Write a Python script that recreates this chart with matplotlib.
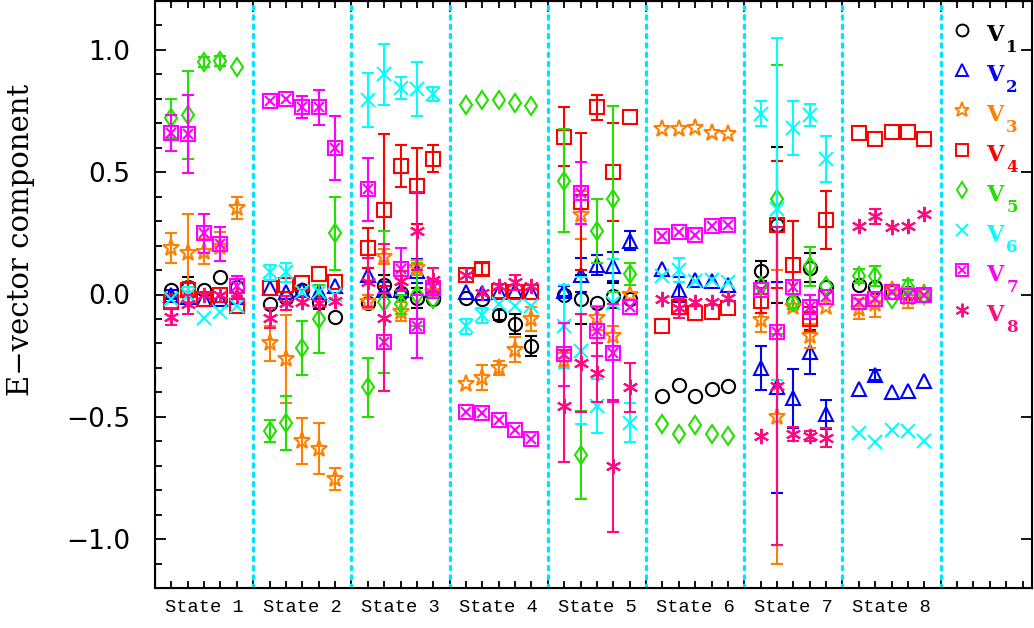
import numpy as np
import matplotlib
matplotlib.use("Agg")
import matplotlib.pyplot as plt
from matplotlib.ticker import FixedLocator
import matplotlib.transforms as mtransforms

# ── data: 8 states x 5 points per state ─────────────────────────────────────
states = ["State 1", "State 2", "State 3", "State 4",
          "State 5", "State 6", "State 7", "State 8"]
n_per_state = 5

v1_vals = [0.02, 0.03, 0.02, 0.07, 0.03,   -0.04, -0.015, 0.02, -0.03, -0.09,
           -0.035, 0.04, 0.005, -0.015, -0.02,   -0.015, -0.02, -0.085, -0.12, -0.21,
           0.0, -0.02, -0.035, -0.005, -0.02,   -0.415, -0.37, -0.415, -0.385, -0.375,
           0.095, 0.285, -0.03, 0.11, 0.03,   0.04, 0.03, 0.01, 0.005, 0.0]
v1_errs = [0, 0.04, 0, 0, 0,   0, 0, 0, 0.03, 0,
           0, 0.04, 0, 0.04, 0,   0, 0, 0.02, 0.04, 0.04,
           0, 0.1, 0, 0.05, 0,   0, 0, 0, 0, 0,
           0.04, 0.32, 0, 0.06, 0,   0, 0, 0, 0.02, 0]

v2_vals = [0.0, -0.01, -0.02, -0.02, -0.01,   0.025, 0.01, 0.02, 0.01, 0.035,
           0.08, 0.02, 0.02, 0.095, 0.02,   0.01, 0.005, 0.01, 0.015, 0.01,
           0.015, 0.08, 0.12, 0.115, 0.22,   0.105, 0.02, 0.06, 0.055, 0.04,
           -0.3, -0.38, -0.425, -0.235, -0.49,   -0.385, -0.33, -0.4, -0.395, -0.355]
v2_errs = [0.02, 0, 0, 0, 0,   0, 0, 0, 0, 0,
           0.03, 0.03, 0, 0.05, 0,   0, 0, 0, 0, 0,
           0.02, 0.07, 0.04, 0.06, 0.04,   0, 0.05, 0, 0, 0,
           0.09, 0.43, 0.12, 0.09, 0.06,   0, 0.02, 0, 0, 0]

v3_vals = [0.19, 0.17, 0.175, 0.195, 0.355,   -0.2, -0.265, -0.6, -0.63, -0.755,
           -0.03, 0.155, -0.07, 0.11, 0.01,   -0.365, -0.34, -0.3, -0.225, -0.1,
           -0.27, 0.325, -0.095, -0.17, 0.0,   0.675, 0.675, 0.68, 0.66, 0.655,
           -0.105, -0.5, -0.05, -0.17, -0.05,   -0.06, -0.04, 0.02, -0.015, 0.005]
v3_errs = [0.06, 0.16, 0.05, 0.06, 0.045,   0.07, 0.18, 0.095, 0.105, 0.045,
           0.03, 0.03, 0.04, 0.03, 0,   0, 0.05, 0.03, 0.05, 0.05,
           0.03, 0.1, 0.05, 0.04, 0,   0, 0, 0, 0, 0,
           0.05, 0.6, 0, 0.05, 0,   0.04, 0.05, 0, 0.04, 0]

v4_vals = [-0.03, 0.02, -0.02, 0.0, -0.045,   0.025, 0.04, 0.045, 0.085, 0.05,
           0.19, 0.345, 0.525, 0.445, 0.555,   0.08, 0.105, 0.015, 0.01, 0.01,
           0.645, 0.38, 0.765, 0.5, 0.725,   -0.13, -0.05, -0.075, -0.07, -0.055,
           -0.025, 0.285, 0.12, -0.1, 0.305,   0.66, 0.635, 0.665, 0.665, 0.635]
v4_errs = [0, 0.03, 0, 0, 0,   0, 0, 0, 0, 0,
           0.08, 0.31, 0.085, 0.155, 0.055,   0, 0.025, 0, 0, 0,
           0.12, 0.28, 0.05, 0.2, 0,   0, 0.03, 0, 0, 0,
           0.05, 0.26, 0.18, 0.05, 0.12,   0, 0, 0, 0, 0]

v5_vals = [0.72, 0.735, 0.95, 0.955, 0.93,   -0.56, -0.525, -0.22, -0.1, 0.25,
           -0.38, -0.03, -0.04, 0.0, -0.02,   0.775, 0.795, 0.795, 0.785, 0.77,
           0.465, -0.655, 0.26, 0.39, 0.085,   -0.53, -0.57, -0.535, -0.57, -0.58,
           0.035, 0.39, -0.03, 0.115, 0.035,   0.075, 0.075, -0.02, 0.03, 0.0]
v5_errs = [0.08, 0.18, 0.02, 0.02, 0,   0.045, 0.11, 0.11, 0.14, 0.15,
           0.12, 0.29, 0.04, 0.13, 0,   0, 0, 0, 0, 0,
           0.21, 0.18, 0.13, 0.38, 0.045,   0, 0, 0, 0, 0,
           0, 0.55, 0.03, 0.08, 0,   0.03, 0.04, 0, 0.03, 0]

v6_vals = [-0.02, 0.0, -0.095, -0.07, -0.045,   0.09, 0.09, 0.01, 0.01, 0.0,
           0.795, 0.9, 0.845, 0.84, 0.82,   -0.13, -0.085, -0.04, -0.045, -0.045,
           -0.13, -0.23, -0.455, -0.035, -0.525,   0.075, 0.1, 0.055, 0.06, 0.05,
           0.74, 0.35, 0.68, 0.735, 0.555,   -0.565, -0.605, -0.555, -0.56, -0.6]
v6_errs = [0, 0.03, 0, 0, 0,   0.03, 0.04, 0, 0, 0,
           0.11, 0.125, 0.045, 0.11, 0.03,   0.03, 0.03, 0, 0, 0,
           0.17, 0.3, 0.11, 0.18, 0.08,   0, 0.05, 0, 0, 0,
           0.05, 0.7, 0.11, 0.045, 0.095,   0, 0, 0, 0, 0]

v7_vals = [0.66, 0.655, 0.25, 0.205, 0.035,   0.79, 0.8, 0.765, 0.765, 0.6,
           0.43, -0.195, 0.105, -0.13, 0.025,   -0.48, -0.485, -0.515, -0.555, -0.59,
           -0.245, 0.415, -0.15, -0.24, -0.05,   0.24, 0.255, 0.245, 0.28, 0.285,
           0.02, -0.155, 0.03, -0.05, -0.01,   -0.03, -0.02, 0.01, -0.005, 0.0]
v7_errs = [0.075, 0.16, 0.08, 0.07, 0.04,   0, 0, 0.045, 0.07, 0.13,
           0.13, 0.2, 0.085, 0.13, 0.04,   0, 0, 0, 0, 0,
           0.13, 0.125, 0.1, 0.2, 0,   0, 0, 0, 0, 0,
           0, 0, 0, 0.05, 0,   0, 0, 0, 0, 0]

v8_vals = [-0.09, -0.04, 0.0, 0.0, 0.0,   -0.095, -0.035, -0.03, -0.035, -0.025,
           0.05, -0.095, 0.055, 0.26, 0.06,   0.08, 0.005, 0.035, 0.05, 0.035,
           -0.455, -0.28, -0.32, -0.7, -0.38,   -0.02, -0.055, -0.03, -0.03, -0.015,
           -0.58, -0.375, -0.57, -0.58, -0.585,   0.28, 0.32, 0.275, 0.28, 0.33]
v8_errs = [0.035, 0.04, 0, 0, 0,   0.04, 0.03, 0, 0, 0,
           0.1, 0.3, 0.04, 0.16, 0.05,   0, 0, 0, 0.03, 0,
           0.23, 0.2, 0.12, 0.27, 0.1,   0, 0.04, 0, 0, 0,
           0, 0.65, 0.03, 0.02, 0.04,   0, 0.03, 0, 0, 0]

series_names = ["1", "2", "3", "4", "5", "6", "7", "8"]
series_vals = [v1_vals, v2_vals, v3_vals, v4_vals, v5_vals, v6_vals, v7_vals, v8_vals]
series_errs = [v1_errs, v2_errs, v3_errs, v4_errs, v5_errs, v6_errs, v7_errs, v8_errs]

# ── styles ──────────────────────────────────────────────────────────────────
colors = ["#000000", "#0000ff", "#ff8000", "#ff0000",
          "#22e000", "#00ffff", "#ff00ff", "#ff0a80"]
markers = ["o", "^", "*", "s", "d", "x", "s", (6, 2, 0)]
msizes = [9.5, 9.5, 12.5, 10, 9.5, 10, 10, 11]

fig = plt.figure(figsize=(10.34, 6.28), dpi=100)
ax = fig.add_axes([155 / 1034, 1 - 588 / 628, 877 / 1034, 587 / 628])

xs = np.array([s + k / 6 for s in range(len(states)) for k in range(1, n_per_state + 1)])

for i, (vals, errs) in enumerate(zip(series_vals, series_errs)):
    vals = np.array(vals)
    errs = np.array(errs)
    c = colors[i]
    m = errs > 0
    ax.errorbar(xs[m], vals[m], yerr=errs[m], fmt="none", ecolor=c,
                elinewidth=1.5, capsize=4.5, capthick=1.5, zorder=3 + i * 0.1)
    ax.plot(xs, vals, linestyle="none", marker=markers[i], ms=msizes[i],
            mfc="none", mec=c, mew=1.5, zorder=3.05 + i * 0.1)
    if i == 6:
        ax.plot(xs, vals, linestyle="none", marker="x", ms=7,
                mec=c, mew=1.5, zorder=3.06 + i * 0.1)

# ── state separators ────────────────────────────────────────────────────────
for b in range(1, len(states) + 1):
    ax.axvline(b, color="#00e5ff", lw=2.4, linestyle=(0, (1, 1.8)),
               dash_capstyle="round", zorder=2)

ax.set_xlim(0, 8.93)
ax.set_ylim(-1.2, 1.2)

# ticks
ax.xaxis.set_major_locator(FixedLocator(range(0, 9)))
ax.xaxis.set_minor_locator(FixedLocator([s + k / 6 for s in range(9) for k in range(1, 6)]))
ax.set_xticklabels([])
ax.set_yticks([-1.0, -0.5, 0.0, 0.5, 1.0])
ax.set_yticklabels(["\u22121.0", "\u22120.5", "0.0", "0.5", "1.0"])
ax.yaxis.set_minor_locator(FixedLocator(np.arange(-1.1, 1.21, 0.1)))
ax.tick_params(which="both", direction="in", top=True, bottom=True, left=True, right=False,
               width=1.3, color="black")
ax.tick_params(which="major", length=8)
ax.tick_params(which="minor", length=5)
ax.tick_params(axis="y", which="major", labelsize=19, pad=18)
for sp in ax.spines.values():
    sp.set_linewidth(1.5)

# right side major ticks only
axr = ax.twinx()
axr.set_ylim(-1.2, 1.2)
axr.set_yticks([-1.0, -0.5, 0.0, 0.5, 1.0])
axr.set_yticklabels([])
axr.tick_params(direction="in", length=8, width=1.3)

# state labels
trans = mtransforms.blended_transform_factory(ax.transData, fig.transFigure)
for s, name in enumerate(states):
    ax.text(s + 0.5, 1 - 607 / 628, name, transform=trans, ha="center", va="center",
            fontsize=13.5, family="Liberation Mono")

fig.text(21 / 1034, 1 - 240 / 628, "E\u2212vector component", rotation=90,
         ha="center", va="center", fontsize=21, family="DejaVu Serif")

# ── legend ──────────────────────────────────────────────────────────────────
for i, name in enumerate(series_names):
    y = 30 + i * 40
    yf = 1 - y / 628
    fig.lines.append(plt.Line2D([962 / 1034], [yf], transform=fig.transFigure,
                                marker=markers[i], ms=msizes[i] * 0.9, mfc="none",
                                mec=colors[i], mew=1.4, linestyle="none"))
    if i == 6:
        fig.lines.append(plt.Line2D([962 / 1034], [yf], transform=fig.transFigure,
                                    marker="x", ms=6, mec=colors[i], mew=1.4,
                                    linestyle="none"))
    fig.text(995 / 1034, 1 - (y + 5) / 628, "V", color=colors[i], fontsize=16,
             fontweight="bold", family="DejaVu Serif", ha="center", va="center")
    fig.text(1012 / 1034, 1 - (y + 18) / 628, name, color=colors[i], fontsize=12,
             fontweight="bold", family="DejaVu Serif", ha="center", va="center")

fig.savefig("out.png", dpi=100)
